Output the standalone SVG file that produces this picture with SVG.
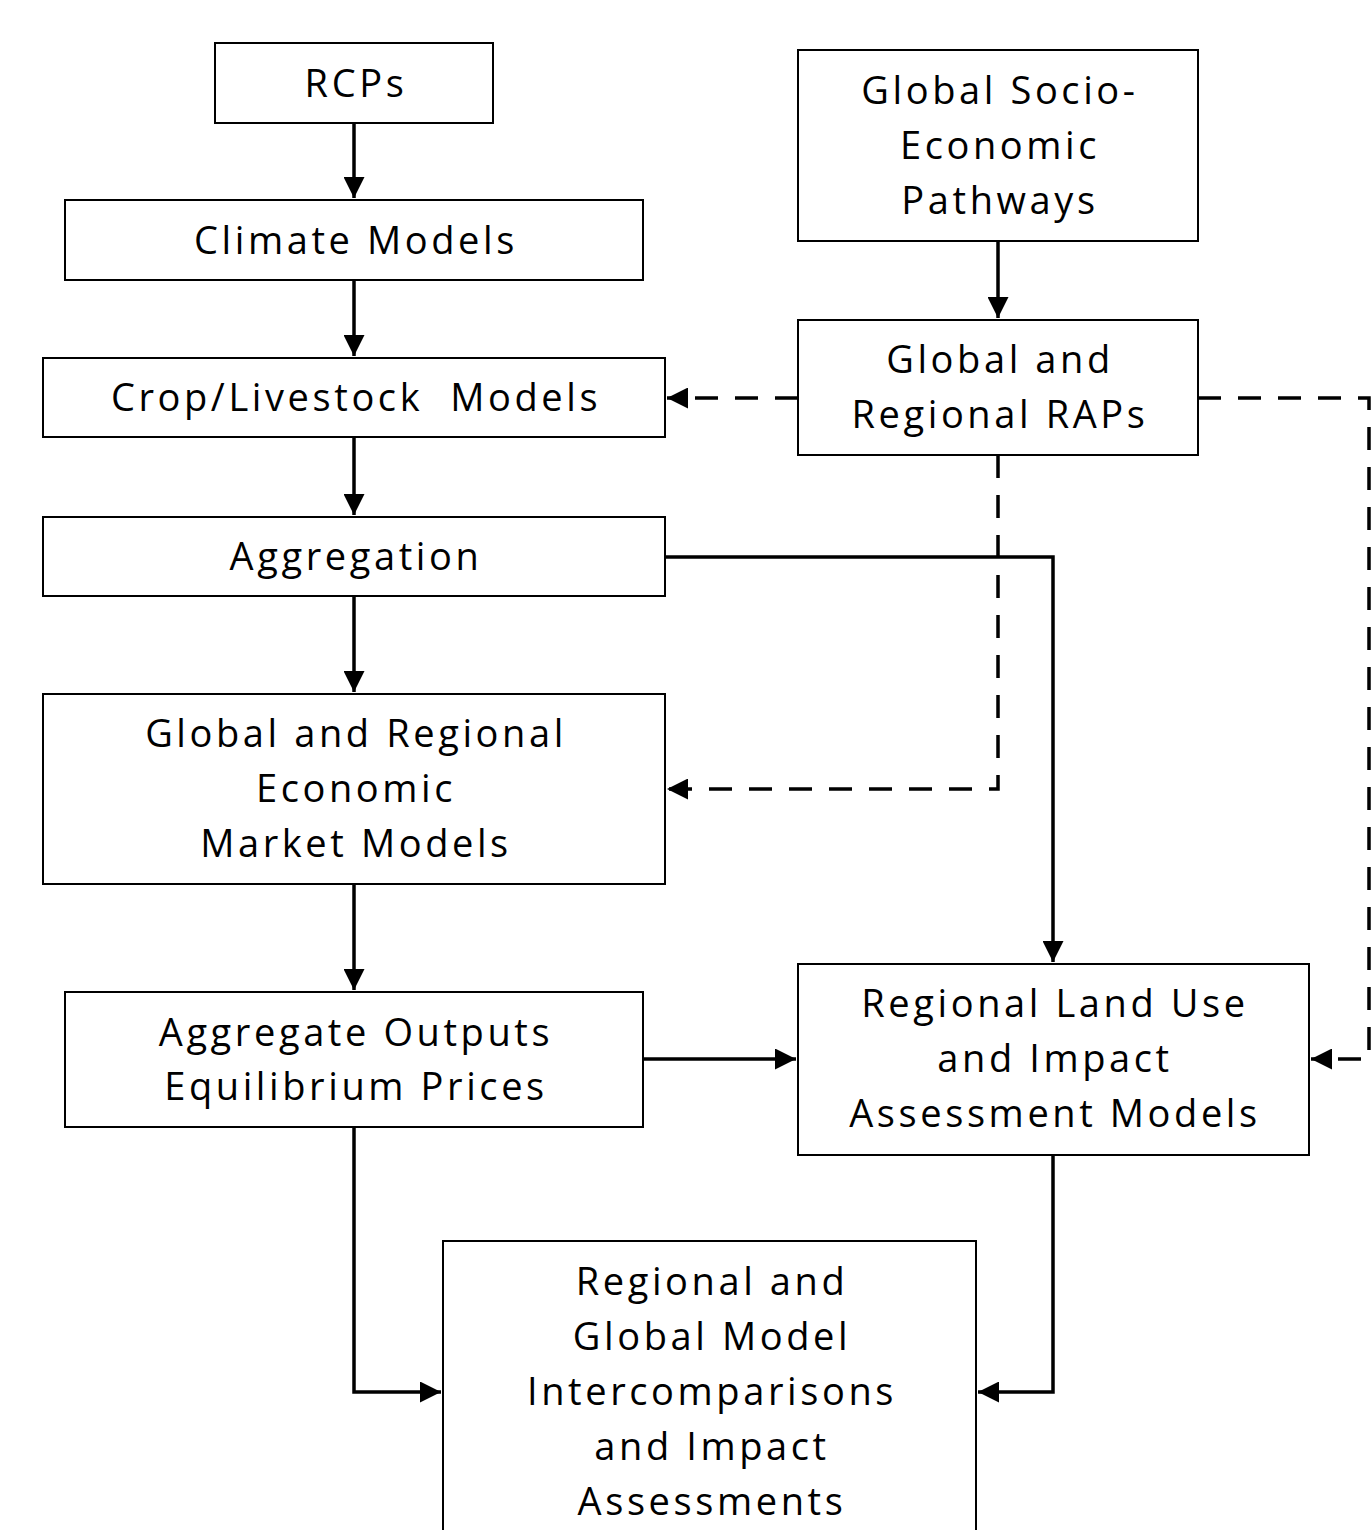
<svg xmlns="http://www.w3.org/2000/svg" width="1372" height="1530" viewBox="0 0 1372 1530">
<defs>
<style>
.box{fill:#fff;stroke:#000;stroke-width:2}
.t{font-family:"Open Sans","Liberation Sans",sans-serif;font-size:38px;letter-spacing:3.6px;fill:#000;text-anchor:middle}
.c{fill:none;stroke:#000;stroke-width:3.5}
.d{fill:none;stroke:#000;stroke-width:3.5;stroke-dasharray:23 17}
</style>
<marker id="ah" viewBox="0 0 10 10" refX="10" refY="5" markerWidth="6" markerHeight="6" markerUnits="strokeWidth" orient="auto">
<path d="M0,0 L10,5 L0,10 Z" fill="#000"/>
</marker>
</defs>
<rect width="1372" height="1530" fill="#fff"/>
<g id="connectors">
<path class="c" d="M354,123 V198" marker-end="url(#ah)"/>
<path class="c" d="M354,280 V356" marker-end="url(#ah)"/>
<path class="c" d="M354,437 V515" marker-end="url(#ah)"/>
<path class="c" d="M354,596 V692" marker-end="url(#ah)"/>
<path class="c" d="M354,884 V990" marker-end="url(#ah)"/>
<path class="c" d="M998,241 V318" marker-end="url(#ah)"/>
<path class="d" d="M798,398 H667" marker-end="url(#ah)"/>
<path class="d" d="M1198,398 H1369 V1059 H1311" marker-end="url(#ah)"/>
<path class="d" d="M998,455 V789 H667" marker-end="url(#ah)"/>
<path class="c" d="M665,557 H1053 V962" marker-end="url(#ah)"/>
<path class="c" d="M643,1059 H796" marker-end="url(#ah)"/>
<path class="c" d="M354,1127 V1392 H441" marker-end="url(#ah)"/>
<path class="c" d="M1053,1155 V1392 H978" marker-end="url(#ah)"/>
</g>
<g id="rcps"><rect class="box" x="215" y="43" width="278" height="80"/><text class="t" x="356" y="97">RCPs</text></g>
<g id="climate"><rect class="box" x="65" y="200" width="578" height="80"/><text class="t" x="356" y="254">Climate Models</text></g>
<g id="crop"><rect class="box" x="43" y="358" width="622" height="79"/><text class="t" x="356" y="411" xml:space="preserve">Crop/Livestock  Models</text></g>
<g id="aggregation"><rect class="box" x="43" y="517" width="622" height="79"/><text class="t" x="356" y="570">Aggregation</text></g>
<g id="economic"><rect class="box" x="43" y="694" width="622" height="190"/><text class="t"><tspan x="356" y="747">Global and Regional</tspan><tspan x="356" y="802">Economic</tspan><tspan x="356" y="857">Market Models</tspan></text></g>
<g id="outputs"><rect class="box" x="65" y="992" width="578" height="135"/><text class="t"><tspan x="356" y="1046">Aggregate Outputs</tspan><tspan x="356" y="1100">Equilibrium Prices</tspan></text></g>
<g id="ssp"><rect class="box" x="798" y="50" width="400" height="191"/><text class="t"><tspan x="1000" y="104">Global Socio-</tspan><tspan x="1000" y="159">Economic</tspan><tspan x="1000" y="214">Pathways</tspan></text></g>
<g id="raps"><rect class="box" x="798" y="320" width="400" height="135"/><text class="t"><tspan x="1000" y="373">Global and</tspan><tspan x="1000" y="428">Regional RAPs</tspan></text></g>
<g id="landuse"><rect class="box" x="798" y="964" width="511" height="191"/><text class="t"><tspan x="1055" y="1017">Regional Land Use</tspan><tspan x="1055" y="1072">and Impact</tspan><tspan x="1055" y="1127">Assessment Models</tspan></text></g>
<g id="intercomp"><rect class="box" x="443" y="1241" width="533" height="300"/><text class="t"><tspan x="712" y="1295">Regional and</tspan><tspan x="712" y="1350">Global Model</tspan><tspan x="712" y="1405">Intercomparisons</tspan><tspan x="712" y="1460">and Impact</tspan><tspan x="712" y="1515">Assessments</tspan></text></g>
</svg>
